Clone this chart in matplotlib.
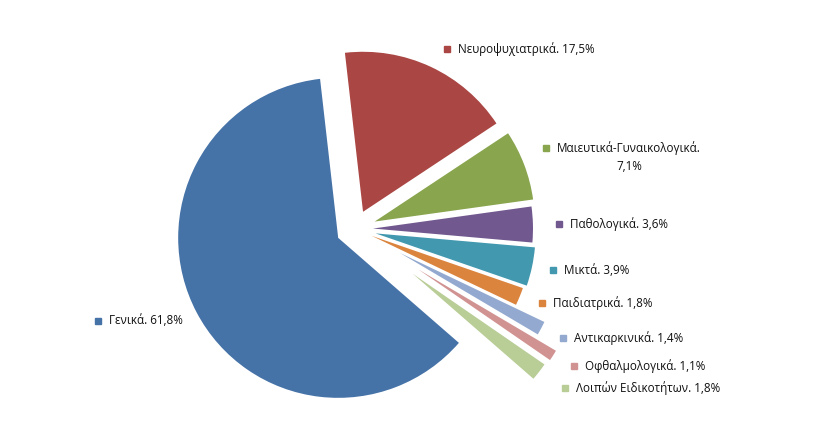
#!/usr/bin/env python3
"""Exploded pie: share of hospital beds by specialty."""

import matplotlib
matplotlib.use('Agg')
import matplotlib.pyplot as plt

plt.rcParams['font.family'] = ['Open Sans', 'DejaVu Sans']

# data (clockwise from the top)
categories = ['Νευροψυχιατρικά', 'Μαιευτικά-Γυναικολογικά', 'Παθολογικά', 'Μικτά',
              'Παιδιατρικά', 'Αντικαρκινικά', 'Οφθαλμολογικά', 'Λοιπών Ειδικοτήτων',
              'Γενικά']
shares = [17.5, 7.1, 3.6, 3.9, 1.8, 1.4, 1.1, 1.8, 61.8]

colors = ['#AA4643', '#89A54E', '#71588F', '#4198AF', '#DB843D',
          '#93A9CF', '#D19392', '#B9CD96', '#4572A7']

W, H = 835, 443
CX, CY, R = 355, 229, 160          # pie centre / radius in pixels (y from top)
explode_px = [19, 21, 18, 21, 18, 51, 75, 73, 19]

# label anchor (marker square) in pixels, y from top
label_pos = [(447, 49), (546, 148), (559, 224), (553, 270), (542, 303),
             (563, 338), (574, 366), (565, 388), (98, 321)]


def fmt(v):
    return f'{v:.1f}'.replace('.', ',') + '%'


fig = plt.figure(figsize=(W / 100, H / 100), dpi=100)
ax = fig.add_axes([0, 0, 1, 1])

ax.pie(shares, colors=colors, explode=explode_px, radius=R,
       center=(CX, H - CY), startangle=96.5, counterclock=False,
       wedgeprops=dict(linewidth=0))

ax.set_xlim(0, W)
ax.set_ylim(0, H)
ax.set_aspect('equal')
ax.axis('off')

for name, val, col, (px, py) in zip(categories, shares, colors, label_pos):
    y = H - py
    ax.plot(px, y, marker='s', markersize=5, color=col, linestyle='none')
    if name.startswith('Μαιευτικά'):
        ax.text(px + 83, y + 7, f'{name}.\n{fmt(val)}', ha='center', va='top',
                fontsize=8.4, color='#111111', linespacing=1.5)
    else:
        ax.text(px + 11, y, f'{name}. {fmt(val)}', ha='left', va='center',
                fontsize=8.4, color='#111111')

fig.savefig('out.png', dpi=100)
plt.close(fig)
